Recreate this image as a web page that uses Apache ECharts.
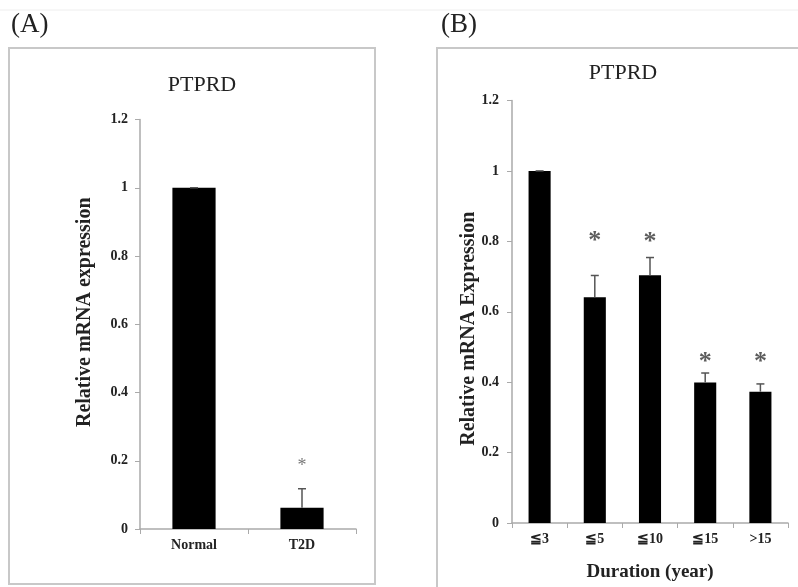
<!DOCTYPE html>
<html lang="en">
<head>
  <meta charset="UTF-8">
  <title>PTPRD</title>
  <script src="https://cdn.jsdelivr.net/npm/echarts@6/dist/echarts.min.js"></script>
  <style>
    html, body { margin: 0; background: #fff; }
    #chart { width: 798px; height: 587px; }
  </style>
</head>
<body>
  <div id="chart"></div>
</body>
</html>
<script type="text/javascript">
  // (A) Normal vs T2D
  const groupsA = ['Normal', 'T2D'];
  const valuesA = [1.0, 0.062];
  const errorsA = [0.0, 0.056];
  const starsA = [null, 0.196];

  // (B) by duration of diabetes
  const groupsB = ['≦3', '≦5', '≦10', '≦15', '>15'];
  const valuesB = [1.0, 0.641, 0.704, 0.399, 0.373];
  const errorsB = [0.0, 0.062, 0.05, 0.027, 0.022];
  const starsB = [null, 0.82, 0.816, 0.476, 0.476];

  const yMin = 0, yMax = 1.2, yStep = 0.2;
  const serif = '"Liberation Serif", "DejaVu Serif", serif';

  let chart = echarts.init(document.getElementById('chart'));

  function errorBar(params, api) {
    const x = api.value(0), y = api.value(1), e = api.value(2);
    const base = api.coord([x, y]);
    const top = api.coord([x, y + e]);
    const cap = 4;
    const style = { stroke: '#555', lineWidth: 1.5 };
    return {
      type: 'group',
      children: [
        { type: 'line', shape: { x1: base[0], y1: base[1], x2: top[0], y2: top[1] }, style: style },
        { type: 'line', shape: { x1: top[0] - cap, y1: top[1], x2: top[0] + cap, y2: top[1] }, style: style }
      ]
    };
  }

  function starData(stars) {
    let out = [];
    stars.forEach(function (s, i) { if (s !== null) out.push([i, s]); });
    return out;
  }

  function xAxisOf(idx, cats, name) {
    return {
      type: 'category', gridIndex: idx, data: cats,
      name: name || '', nameLocation: 'middle', nameGap: 40,
      nameTextStyle: { fontFamily: serif, fontWeight: 'bold', fontSize: 19, color: '#222' },
      axisLine: { lineStyle: { color: '#aaa', width: 1.5 } },
      axisTick: { show: true, length: 5, lineStyle: { color: '#aaa' } },
      axisLabel: { fontFamily: serif, fontWeight: 'bold', fontSize: 14, color: '#222', margin: 9 }
    };
  }

  function yAxisOf(idx, name, gap, margin, pad) {
    return {
      type: 'value', gridIndex: idx, min: yMin, max: yMax, interval: yStep,
      name: name, nameLocation: 'middle', nameGap: gap, nameRotate: 90,
      nameMoveOverlap: false,
      nameTextStyle: { fontFamily: serif, fontWeight: 'bold', fontSize: 20, color: '#222', padding: pad },
      axisLine: { show: true, lineStyle: { color: '#aaa', width: 1.5 } },
      axisTick: { show: true, length: 5, lineStyle: { color: '#aaa' } },
      splitLine: { show: false },
      axisLabel: { fontFamily: serif, fontWeight: 'bold', fontSize: 14, color: '#222', margin: margin }
    };
  }

  let option = {
    animation: false,
    backgroundColor: '#fff',
    grid: [
      { left: 140, top: 119.5, width: 216, height: 409.5 },
      { left: 512, top: 100.5, width: 276, height: 427 }
    ],
    xAxis: [xAxisOf(0, groupsA), xAxisOf(1, groupsB, 'Duration (year)')],
    yAxis: [
      yAxisOf(0, 'Relative mRNA expression', 45, 12, [0, 0, 0, 24]),
      yAxisOf(1, 'Relative mRNA Expression', 33, 13, [0, 34, 0, 0])
    ],
    graphic: [
      { type: 'line', shape: { x1: 0, y1: 10, x2: 798, y2: 10 }, style: { stroke: '#eee', lineWidth: 1 } },
      { type: 'rect', shape: { x: 9, y: 48, width: 366, height: 536 }, style: { fill: 'none', stroke: '#c8c8c8', lineWidth: 2 } },
      { type: 'rect', shape: { x: 437, y: 48, width: 380, height: 560 }, style: { fill: 'none', stroke: '#c8c8c8', lineWidth: 2 } },
      { type: 'text', x: 11, y: 25, style: { text: '(A)', font: '27px ' + serif, fill: '#222', textVerticalAlign: 'middle' } },
      { type: 'text', x: 441, y: 25, style: { text: '(B)', font: '27px ' + serif, fill: '#222', textVerticalAlign: 'middle' } },
      { type: 'text', x: 202, y: 85, style: { text: 'PTPRD', font: '22px ' + serif, fill: '#222', textAlign: 'center', textVerticalAlign: 'middle' } },
      { type: 'text', x: 623, y: 73, style: { text: 'PTPRD', font: '22px ' + serif, fill: '#222', textAlign: 'center', textVerticalAlign: 'middle' } }
    ],
    series: [
      {
        type: 'bar', xAxisIndex: 0, yAxisIndex: 0, data: valuesA,
        barWidth: '40%', itemStyle: { color: '#000' }
      },
      {
        type: 'custom', xAxisIndex: 0, yAxisIndex: 0, renderItem: errorBar, z: 3,
        encode: { x: 0, y: 1 },
        data: groupsA.map(function (g, i) { return [i, valuesA[i], errorsA[i]]; })
      },
      {
        type: 'scatter', xAxisIndex: 0, yAxisIndex: 0, data: starData(starsA),
        symbolSize: 1, itemStyle: { color: 'rgba(0,0,0,0)' },
        label: { show: true, position: 'inside', formatter: '*', fontFamily: serif, fontSize: 18, color: '#555', offset: [0, 4] }
      },
      {
        type: 'bar', xAxisIndex: 1, yAxisIndex: 1, data: valuesB,
        barWidth: '40%', itemStyle: { color: '#000' }
      },
      {
        type: 'custom', xAxisIndex: 1, yAxisIndex: 1, renderItem: errorBar, z: 3,
        encode: { x: 0, y: 1 },
        data: groupsB.map(function (g, i) { return [i, valuesB[i], errorsB[i]]; })
      },
      {
        type: 'scatter', xAxisIndex: 1, yAxisIndex: 1, data: starData(starsB),
        symbolSize: 1, itemStyle: { color: 'rgba(0,0,0,0)' },
        label: { show: true, position: 'inside', formatter: '*', fontFamily: serif, fontWeight: 'bold', fontSize: 26, color: '#333', offset: [0, 7] }
      }
    ]
  };
  chart.setOption(option);
</script>
